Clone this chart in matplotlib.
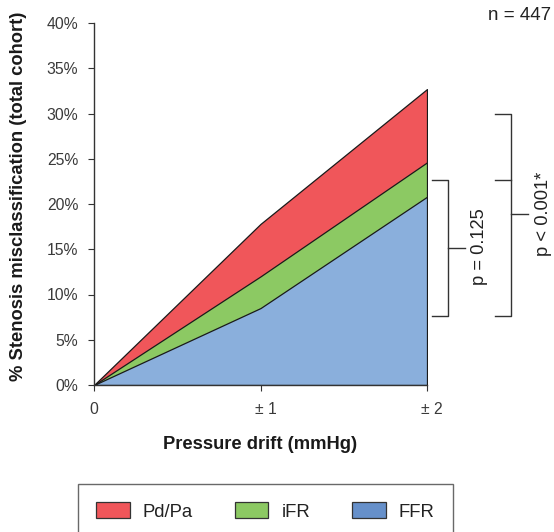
import matplotlib
matplotlib.use("Agg")
import matplotlib.pyplot as plt
from matplotlib.patches import Patch
from matplotlib.transforms import ScaledTranslation

plt.rcParams['font.family'] = ['Liberation Sans', 'DejaVu Sans']

# data
drift = [0, 1, 2]
drift_labels = ["0", "± 1", "± 2"]
pdpa = [0, 17.8, 32.7]
ifr = [0, 12.0, 24.6]
ffr = [0, 8.5, 20.8]

series_names = ["Pd/Pa", "iFR", "FFR"]
fill_colors = ["#F0565A", "#8CC963", "#8AAFDC"]
legend_colors = ["#F0565A", "#8CC963", "#6690CA"]

# bracket levels (% scale) for the p-value annotations
br1 = [22.6, 15.1, 7.6]          # top, middle, bottom
br2 = [30.0, 22.6, 18.9, 7.6]    # top, inner tick, middle, bottom

fig = plt.figure(figsize=(5.54, 5.32), dpi=100)
ax = fig.add_axes([94/554, 1-385/532, 333/554, 362/532])

for vals, col in zip([pdpa, ifr, ffr], fill_colors):
    ax.fill_between(drift, 0, vals, facecolor=col, edgecolor="#1a1a1a", linewidth=0.9)

ax.set_xlim(0, 2)
ax.set_ylim(0, 40)
ax.set_yticks(range(0, 41, 5))
ax.set_yticklabels([f"{v}%" for v in range(0, 41, 5)])
ax.set_xticks(drift)
ax.set_xticklabels(drift_labels)
for s in ["top", "right"]:
    ax.spines[s].set_visible(False)
for s in ["left", "bottom"]:
    ax.spines[s].set_color("#333333")
    ax.spines[s].set_linewidth(1.0)
ax.tick_params(axis="y", direction="out", length=4.3, pad=7, labelsize=11.3,
               colors="#333333", labelcolor="#3a3a3a")
ax.tick_params(axis="x", direction="out", length=4, pad=8, labelsize=11.3,
               colors="#333333", labelcolor="#3a3a3a")
for lab in ax.get_xticklabels()[1:]:
    lab.set_transform(lab.get_transform() + ScaledTranslation(0.05, 0, fig.dpi_scale_trans))

ax.set_xlabel("Pressure drift (mmHg)", fontsize=13.2, fontweight="bold", labelpad=14, color="#1a1a1a")
ax.set_ylabel("% Stenosis misclassification (total cohort)", fontsize=13.2, fontweight="bold",
              color="#1a1a1a")
ax.yaxis.set_label_coords(-0.20, 0.522)

# brackets
lk = dict(color="#333333", linewidth=1.0, clip_on=False)
x0, x1, x2 = 2.03, 2.126, 2.228
ax.plot([x0, x1, x1, x0], [br1[0], br1[0], br1[2], br1[2]], **lk)
ax.plot([x1, x2], [br1[1], br1[1]], **lk)
ax.text(2.318, br1[1] + 0.2, "p = 0.125", rotation=90, ha="center", va="center",
        fontsize=13.2, color="#222222")

x0, x1, x2 = 2.408, 2.505, 2.607
ax.plot([x0, x1, x1, x0], [br2[0], br2[0], br2[3], br2[3]], **lk)
ax.plot([x0, x1], [br2[1], br2[1]], **lk)
ax.plot([x1, x2], [br2[2], br2[2]], **lk)
ax.text(2.697, br2[2], "p < 0.001*", rotation=90, ha="center", va="center",
        fontsize=13.2, color="#222222")

fig.text(551/554, 1-15/532, "n = 447", ha="right", va="center", fontsize=13.5, color="#222222")

handles = [Patch(facecolor=c, edgecolor="#333333", linewidth=0.9) for c in legend_colors]
leg = fig.legend(handles, series_names, loc="upper left", ncol=3, mode="expand",
                 bbox_to_anchor=(78/554, 1-484/532 - 0.01, 375/554, 0.01), borderaxespad=0,
                 fontsize=13.3, handlelength=1.8, handleheight=0.95, handletextpad=0.7,
                 borderpad=1.0, frameon=True, fancybox=False)
leg.get_frame().set_edgecolor("#444444")
leg.get_frame().set_linewidth(1.0)
for t in leg.get_texts():
    t.set_color("#222222")

fig.savefig("out.png", dpi=100)
